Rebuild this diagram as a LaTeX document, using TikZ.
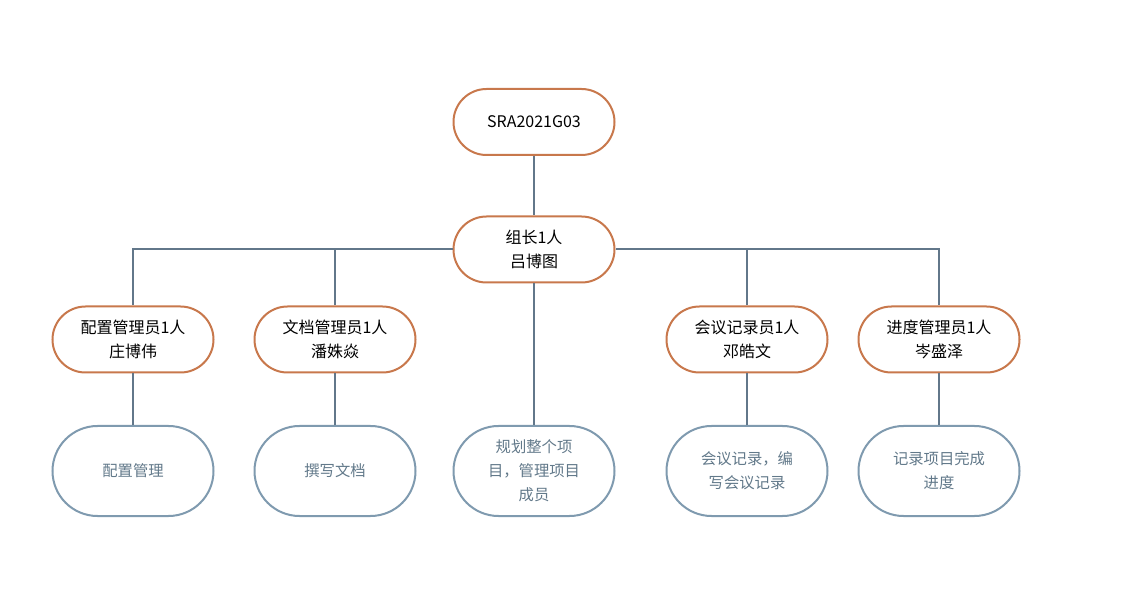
\documentclass[tikz,border=0pt]{standalone}
\usepackage{fontspec}
\setmainfont{Noto Sans CJK SC}
\usepackage{tikz}
\usetikzlibrary{positioning}

\definecolor{roleorange}{HTML}{C8784C}
\definecolor{taskblue}{HTML}{7F9AAF}
\definecolor{taskgray}{HTML}{62798A}
\definecolor{linkgray}{HTML}{62778A}

\begin{document}
\begin{tikzpicture}[x=0.75pt, y=-0.75pt,
    role/.style={draw=roleorange, line width=1.5pt, fill=white, rounded corners=24.75pt,
      minimum width=120.75pt, minimum height=49.5pt, align=center,
      font=\fontsize{12}{18.5}\selectfont},
    task/.style={draw=taskblue, line width=1.5pt, fill=white, rounded corners=33.75pt,
      minimum width=120.75pt, minimum height=67.5pt, align=center, text=taskgray,
      font=\fontsize{11.5}{18}\selectfont},
    conn/.style={draw=linkgray, line width=1.5pt}]
  \useasboundingbox (0,0) rectangle (1121,616);

  % Projet et chef
  \node[role] (root) at (534, 122) {SRA2021G03};
  \node[role] (leader) at (534, 249.5) {组长1人\\吕博图};

  % Roles
  \node[role] (cfg) at (133, 339.5) {配置管理员1人\\庄博伟};
  \node[role] (doc) at (335, 339.5) {文档管理员1人\\潘姝焱};
  \node[role] (meet) at (747, 339.5) {会议记录员1人\\邓皓文};
  \node[role] (prog) at (939, 339.5) {进度管理员1人\\岑盛泽};

  % Taches
  \node[task] (cfgtask) at (133, 471) {配置管理};
  \node[task] (doctask) at (335, 471) {撰写文档};
  \node[task] (leadtask) at (534, 471) {规划整个项\\目，管理项目\\成员};
  \node[task] (meettask) at (747, 471) {会议记录，编\\写会议记录};
  \node[task] (progtask) at (939, 471) {记录项目完成\\进度};

  % Connexions
  \draw[conn] (root) -- (leader);
  \draw[conn] (leader.west) -| (cfg.north);
  \draw[conn] (leader.west) -| (doc.north);
  \draw[conn] (leader.east) -| (meet.north);
  \draw[conn] (leader.east) -| (prog.north);
  \draw[conn] (leader) -- (leadtask);
  \draw[conn] (cfg) -- (cfgtask);
  \draw[conn] (doc) -- (doctask);
  \draw[conn] (meet) -- (meettask);
  \draw[conn] (prog) -- (progtask);
\end{tikzpicture}
\end{document}
